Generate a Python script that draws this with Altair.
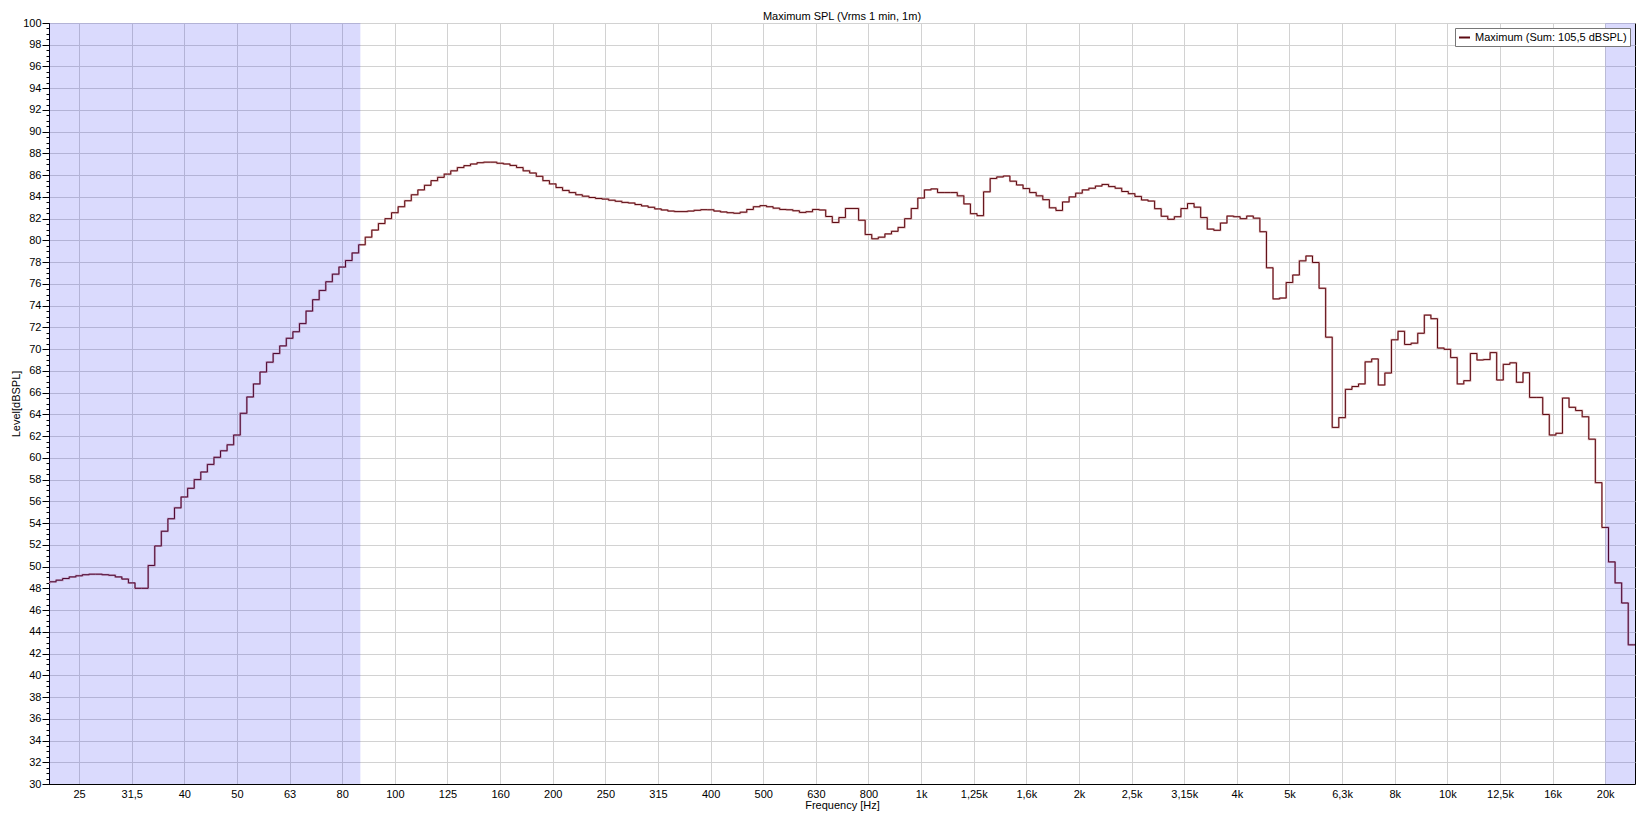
import altair as alt
import pandas as pd

# ---------------- data ----------------
# 1/24-octave bins; bin index 0 is the 25 Hz band, first bin is index -5
FIRST_BIN = -5
spl_db = [
    48.5, 48.6, 48.75, 48.9, 49.05, 49.15, 49.25, 49.3, 49.3, 49.25,
    49.2, 49.05, 48.85, 48.5, 48.0, 48.0, 50.1, 51.9, 53.25, 54.4,
    55.4, 56.4, 57.2, 58.0, 58.7, 59.4, 60.05, 60.65, 61.2, 62.1,
    64.1, 65.6, 66.8, 67.9, 68.8, 69.6, 70.3, 71.0, 71.6, 72.35,
    73.5, 74.55, 75.4, 76.2, 76.9, 77.55, 78.15, 78.85, 79.6, 80.3,
    80.95, 81.55, 82.0, 82.55, 83.1, 83.65, 84.2, 84.65, 85.07, 85.5,
    85.8, 86.1, 86.4, 86.7, 86.88, 87.03, 87.15, 87.2, 87.2, 87.1,
    87.03, 86.9, 86.7, 86.4, 86.2, 85.9, 85.5, 85.2, 84.86, 84.6,
    84.4, 84.2, 84.07, 83.95, 83.86, 83.8, 83.7, 83.6, 83.5, 83.44,
    83.3, 83.17, 83.05, 82.9, 82.8, 82.7, 82.65, 82.65, 82.7, 82.77,
    82.83, 82.82, 82.7, 82.62, 82.55, 82.5, 82.6, 82.85, 83.1, 83.2,
    83.1, 82.97, 82.85, 82.82, 82.73, 82.58, 82.64, 82.85, 82.8, 82.2,
    81.65, 82.1, 82.94, 82.94, 81.86, 80.54, 80.15, 80.3, 80.6, 80.84,
    81.2, 82.0, 82.94, 83.9, 84.65, 84.74, 84.4, 84.4, 84.4, 84.1,
    83.36, 82.46, 82.28, 84.47, 85.7, 85.84, 85.93, 85.45, 85.1, 84.77,
    84.4, 84.1, 83.75, 83.0, 82.76, 83.54, 84.0, 84.35, 84.65, 84.8,
    85.0, 85.15, 84.95, 84.8, 84.5, 84.3, 84.05, 83.72, 83.62, 82.92,
    82.22, 81.94, 82.18, 82.93, 83.39, 83.06, 82.1, 81.04, 80.93, 81.6,
    82.24, 82.18, 82.0, 82.24, 82.05, 80.8, 77.48, 74.62, 74.7, 76.13,
    76.82, 78.12, 78.57, 77.97, 75.6, 71.1, 62.8, 63.7, 66.3, 66.56,
    66.8, 68.83, 69.1, 66.7, 67.8, 70.86, 71.64, 70.43, 70.55, 71.46,
    73.13, 72.8, 70.1, 69.98, 69.22, 66.8, 67.1, 69.6, 69.0, 69.04,
    69.68, 67.16, 68.6, 68.74, 66.95, 67.83, 65.56, 65.56, 63.99, 62.1,
    62.26, 65.5, 64.65, 64.35, 63.78, 61.72, 57.72, 53.6, 50.43, 48.5,
    46.65, 42.8,
]

tick_labels = ["25", "31,5", "40", "50", "63", "80", "100", "125", "160", "200",
               "250", "315", "400", "500", "630", "800", "1k", "1,25k", "1,6k", "2k",
               "2,5k", "3,15k", "4k", "5k", "6,3k", "8k", "10k", "12,5k", "16k", "20k"]

series_name = "Maximum (Sum: 105,5 dBSPL)"
chart_title = "Maximum SPL (Vrms 1 min, 1m)"

X_MIN, X_MAX = 22.02, 22730.0
Y_MIN, Y_MAX = 30, 100

shade_start = [X_MIN, 19953.0]
shade_end = [86.0, X_MAX]

y_major = list(range(30, 101, 2))
y_minor = [30 + 0.5 * i for i in range(141)]

# ---------------- tables ----------------
freqs = [10 ** (1.4 + (FIRST_BIN + i) / 80) for i in range(len(spl_db))]
# last band continues to the right edge of the plot
freqs_ext = freqs + [X_MAX]
spl_ext = spl_db + [spl_db[-1]]
df = pd.DataFrame({"f": freqs_ext, "spl": spl_ext, "series": series_name})

shade_df = pd.DataFrame({"f1": shade_start, "f2": shade_end,
                         "lo": [Y_MIN] * 2, "hi": [Y_MAX] * 2})

tick_values = [10 ** (1.4 + n / 10) for n in range(len(tick_labels))]
label_expr = ("[" + ",".join("'" + t + "'" for t in tick_labels) +
              "][round(log(datum.value)/LN10*10) - 14]")

FONT = "Liberation Sans"
GRID = "#d2d2d2"

xs = alt.Scale(type="log", domain=[X_MIN, X_MAX], nice=False)
ys = alt.Scale(domain=[Y_MIN, Y_MAX], nice=False, zero=False)

x_axis = alt.Axis(values=tick_values, labelExpr=label_expr, title="Frequency [Hz]",
                  grid=True, gridColor=GRID, gridWidth=1, ticks=False,
                  domainColor="black", labelFont=FONT, labelFontSize=11,
                  labelColor="black", labelPadding=4, labelFlush=False,
                  labelOverlap=False, titleFont=FONT, titleFontSize=11,
                  titleFontWeight="normal", titleColor="black", titlePadding=0)

y_major_axis = alt.Axis(values=y_major, title="Level[dBSPL]", orient="left",
                        grid=True, gridColor=GRID, gridWidth=1, tickSize=7,
                        tickColor="black", domainColor="black", labelFont=FONT,
                        labelFontSize=11, labelColor="black", labelPadding=1,
                        labelFlush=False, labelOverlap=False, titleFont=FONT,
                        titleFontSize=11, titleFontWeight="normal",
                        titleColor="black", titlePadding=1)

y_minor_axis = alt.Axis(values=y_minor, orient="left", labels=False, grid=False,
                        domain=False, tickSize=3, tickColor="black", title=None)

halo = alt.Chart(df).mark_line(interpolate="step", color="#dcaeb0",
                               strokeWidth=2.0, clip=True).encode(
    x=alt.X("f:Q", scale=xs, axis=x_axis),
    y=alt.Y("spl:Q", scale=ys, axis=y_minor_axis),
)

main = alt.Chart(df).mark_line(interpolate="step", strokeWidth=1.0, clip=True).encode(
    x=alt.X("f:Q", scale=xs, axis=x_axis),
    y=alt.Y("spl:Q", scale=ys, axis=y_major_axis),
    color=alt.Color("series:N", scale=alt.Scale(range=["#5c0a12"]),
                    legend=alt.Legend(title=None, orient="none", legendX=1406,
                                      legendY=5, fillColor="white",
                                      strokeColor="#777777", padding=3,
                                      labelFont=FONT, labelFontSize=11,
                                      labelColor="black", symbolType="stroke",
                                      symbolSize=121, symbolStrokeWidth=2,
                                      labelOffset=4)),
)

shade = alt.Chart(shade_df).mark_rect(color="#0000ee", opacity=0.145, clip=True).encode(
    x=alt.X("f1:Q", scale=xs, axis=x_axis),
    x2="f2:Q",
    y=alt.Y("lo:Q", scale=ys, axis=None),
    y2="hi:Q",
)

chart = alt.layer(halo, main, shade).resolve_axis(y="independent").properties(
    width=1586,
    height=761,
    title=alt.TitleParams(chart_title, font=FONT, fontSize=11,
                          fontWeight="normal", color="black", anchor="middle",
                          frame="group", offset=0, dy=5),
    autosize=alt.AutoSizeParams(type="none"),
    padding={"left": 41, "top": 15, "right": 2, "bottom": 30},
).configure(font=FONT).configure_view(stroke="black", strokeWidth=1)

chart.save("out.html", embed_options={"renderer": "svg", "actions": False})
